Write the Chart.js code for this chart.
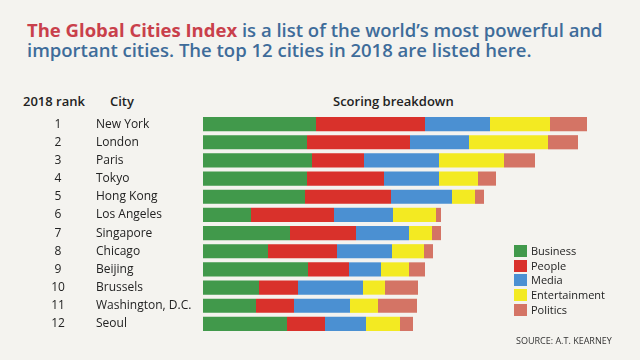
<!DOCTYPE html>
<html>
<head>
<meta charset="utf-8">
<script src="https://cdn.jsdelivr.net/npm/chart.js@4"></script>
<style>
    html, body { margin: 0; padding: 0; }
    body {
        width: 640px; height: 360px; overflow: hidden; position: relative;
        background: #f4f3ef; font-family: "Open Sans", sans-serif; color: #222;
    }
    #chart { position: absolute; left: 0; top: 0; }
    .title {
        position: absolute; left: 27px; top: 20px; width: 610px; white-space: nowrap;
        font-size: 18.5px; font-weight: 600; line-height: 20px; color: #3e6c9a;
    }
    .title .hl { color: #c9404b; font-weight: 700; }
    .head { position: absolute; top: 92px; font-size: 13px; font-weight: 600; color: #222; }
    .legend { position: absolute; left: 514px; top: 244px; font-size: 11px; }
    .legend div { height: 14.7px; line-height: 14px; white-space: nowrap; }
    .legend span {
        display: inline-block; width: 13px; height: 12px; margin-right: 4px; vertical-align: -2px;
    }
    .source { position: absolute; left: 516px; top: 334px; font-size: 9px; color: #333; }
</style>
</head>
<body>
<div class="title"><span class="hl">The Global Cities Index</span> is a list of the world’s most powerful and<br>important cities. The top 12 cities in 2018 are listed here.</div>
<div class="head" style="left:23px">2018 rank</div>
<div class="head" style="left:110px">City</div>
<div class="head" style="left:333px">Scoring breakdown</div>
<canvas id="chart" width="640" height="360"></canvas>
<div class="legend" id="legend"></div>
<div class="source">SOURCE: A.T. KEARNEY</div>
<script>
// Data (scores in arbitrary units)
const ranks = ['1', '2', '3', '4', '5', '6', '7', '8', '9', '10', '11', '12'];
const cities = ['New York', 'London', 'Paris', 'Tokyo', 'Hong Kong', 'Los Angeles', 'Singapore',
    'Chicago', 'Beijing', 'Brussels', 'Washington, D.C.', 'Seoul'];
const business = [113, 104, 109, 104, 102, 48, 87, 65, 105, 56, 53, 84];
const people = [109, 103, 52, 77, 86, 83, 66, 69, 41, 39, 38, 38];
const media = [65, 59, 75, 55, 61, 59, 53, 55, 32, 65, 56, 41];
const entertainment = [60, 79, 65, 39, 23, 43, 23, 32, 28, 22, 28, 34];
const politics = [37, 30, 31, 18, 9, 5, 9, 9, 16, 33, 39, 13];

const seriesNames = ['Business', 'People', 'Media', 'Entertainment', 'Politics'];
const seriesColors = ['#41994b', '#d9312b', '#4b90d2', '#f3ea22', '#d47465'];
const seriesData = [business, people, media, entertainment, politics];

// rank + city labels next to each bar
const rowLabels = {
    id: 'rowLabels',
    afterDraw(chart) {
        const ctx = chart.ctx;
        const y = chart.scales.y;
        ctx.save();
        ctx.font = '12px "Open Sans", sans-serif';
        ctx.fillStyle = '#222';
        ctx.textBaseline = 'middle';
        cities.forEach((city, i) => {
            const py = y.getPixelForValue(i);
            ctx.textAlign = 'center';
            ctx.fillText(ranks[i], 58, py);
            ctx.textAlign = 'left';
            ctx.fillText(city, 96, py);
        });
        ctx.restore();
    }
};

new Chart(document.getElementById('chart'), {
    type: 'bar',
    data: {
        labels: cities,
        datasets: seriesNames.map((name, i) => ({
            label: name,
            data: seriesData[i],
            backgroundColor: seriesColors[i],
            borderWidth: 0,
            barPercentage: 0.78,
            categoryPercentage: 1
        }))
    },
    options: {
        indexAxis: 'y',
        responsive: false,
        animation: false,
        layout: { padding: { left: 203, right: 37, top: 115, bottom: 27 } },
        plugins: { legend: { display: false }, tooltip: { enabled: false } },
        scales: {
            x: { stacked: true, min: 0, max: 400, display: false },
            y: { stacked: true, display: false }
        }
    },
    plugins: [rowLabels]
});

// legend
const legend = document.getElementById('legend');
seriesNames.forEach((name, i) => {
    const row = document.createElement('div');
    row.innerHTML = `<span style="background:${seriesColors[i]}"></span>${name}`;
    legend.appendChild(row);
});
</script>
</body>
</html>
